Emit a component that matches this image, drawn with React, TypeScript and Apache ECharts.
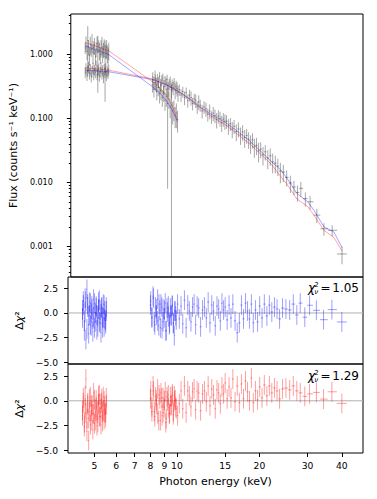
import React, { useEffect, useRef } from "react";
import * as echarts from "echarts";

// ---------------- data ----------------
const lowEnergy = [
  4.52, 4.55, 4.59, 4.62, 4.65, 4.69, 4.72, 4.76, 4.79, 4.83,
  4.86, 4.89, 4.93, 4.96, 5.0, 5.03, 5.07, 5.1, 5.14, 5.17,
  5.21, 5.24, 5.28, 5.31, 5.35, 5.38, 5.42, 5.45, 5.49, 5.52,
];
const highEnergyA = [8.0, 8.1, 8.2, 8.3, 8.4, 8.5, 8.6, 8.7, 8.8, 8.9, 9.0, 9.1, 9.2, 9.3, 9.4, 9.5, 9.6, 9.7, 9.8, 9.9];
const highEnergyB = [
  8.02, 8.1, 8.18, 8.26, 8.34, 8.42, 8.5, 8.58, 8.66, 8.74, 8.82, 8.9, 8.98, 9.06, 9.14, 9.22, 9.3, 9.38, 9.46, 9.54, 9.62, 9.7, 9.78, 9.86, 9.94,
  10.05, 10.2, 10.35, 10.5, 10.65, 10.8, 10.95, 11.1, 11.25, 11.4, 11.55, 11.7, 11.85, 12.0, 12.2, 12.4, 12.6, 12.8, 13.0, 13.2, 13.4, 13.6, 13.8, 14.0, 14.2, 14.4, 14.6, 14.8,
  15.0, 15.25, 15.5, 15.75, 16.0, 16.3, 16.6, 16.9, 17.2, 17.5, 17.8, 18.1, 18.4, 18.7, 19.0, 19.35, 19.7,
  20.05, 20.45, 20.85, 21.3, 21.75, 22.2, 22.7, 23.2, 23.7, 24.3,
  25.0, 25.8, 26.6, 27.4, 28.2, 29.3, 30.5, 32.3, 34.3, 36.8, 40.0,
];

const fluxLowA = [
  1.25, 1.48, 1.1, 1.62, 1.3, 0.95, 1.41, 1.18, 1.55, 1.05,
  1.27, 1.38, 0.92, 1.2, 1.45, 1.08, 1.33, 1.15, 0.98, 1.26,
  1.4, 1.02, 1.18, 1.3, 0.9, 1.12, 1.25, 1.05, 0.97, 1.15,
];
const errLowA = [
  0.25, 0.4, 0.3, 1.1, 0.35, 0.3, 0.45, 0.28, 0.5, 0.35,
  0.3, 0.4, 0.25, 0.32, 0.42, 0.83, 0.3, 0.35, 0.28, 0.38,
  0.45, 0.3, 0.32, 0.4, 0.72, 0.28, 0.4, 0.33, 0.3, 0.35,
];
const fluxLowB = [
  0.52, 0.6, 0.47, 0.55, 0.63, 0.5, 0.58, 0.45, 0.54, 0.61,
  0.49, 0.57, 0.52, 0.66, 0.48, 0.55, 0.59, 0.46, 0.53, 0.62,
  0.5, 0.56, 0.44, 0.58, 0.52, 0.6, 0.47, 0.55, 0.51, 0.57,
];
const errLowB = [
  0.1, 0.12, 0.09, 0.11, 0.13, 0.1, 0.12, 0.09, 0.11, 0.12,
  0.1, 0.11, 0.1, 0.13, 0.09, 0.11, 0.12, 0.09, 0.1, 0.12,
  0.1, 0.11, 0.09, 0.12, 0.1, 0.12, 0.09, 0.11, 0.1, 0.11,
];
const fluxHighA = [0.33, 0.28, 0.36, 0.26, 0.3, 0.24, 0.27, 0.21, 0.25, 0.19, 0.22, 0.17, 0.2, 0.15, 0.16, 0.13, 0.14, 0.11, 0.12, 0.095];
const errHighA = [0.08, 0.07, 0.09, 0.07, 0.08, 0.07, 0.08, 0.06, 0.07, 0.06, 0.07, 0.162, 0.06, 0.05, 0.17, 0.05, 0.05, 0.04, 0.05, 0.035];
const fluxHighB = [
  0.44, 0.36, 0.47, 0.34, 0.41, 0.37, 0.45, 0.33, 0.39, 0.42, 0.31, 0.38, 0.35, 0.4, 0.29, 0.34, 0.37, 0.28, 0.33, 0.3, 0.35, 0.27, 0.31, 0.29, 0.25,
  0.28, 0.23, 0.26, 0.21, 0.25, 0.19, 0.23, 0.21, 0.17, 0.2, 0.19, 0.15, 0.18, 0.16, 0.13, 0.15, 0.14, 0.115, 0.13, 0.105, 0.12, 0.11, 0.095, 0.108, 0.1, 0.085, 0.097, 0.09,
  0.09, 0.076, 0.082, 0.068, 0.075, 0.062, 0.068, 0.055, 0.061, 0.05, 0.054, 0.047, 0.041, 0.046, 0.036, 0.038, 0.031,
  0.033, 0.027, 0.03, 0.024, 0.026, 0.021, 0.02, 0.018, 0.015, 0.0145,
  0.012, 0.0098, 0.0085, 0.007, 0.0081, 0.0056, 0.005, 0.0031, 0.0019, 0.0018, 0.00077,
];
const relErrHighB = [
  0.18, 0.22, 0.17, 0.25, 0.2, 0.19, 0.16, 0.24, 0.2, 0.18, 0.26, 0.2, 0.22, 0.19, 0.27, 0.21, 0.2, 0.28, 0.22, 0.24, 0.21, 0.27, 0.23, 0.25, 0.28,
  0.2, 0.22, 0.19, 0.24, 0.2, 0.23, 0.21, 0.25, 0.22, 0.2, 0.24, 0.22, 0.26, 0.21, 0.24, 0.22, 0.25, 0.23, 0.26, 0.22, 0.25, 0.24, 0.27, 0.23, 0.26, 0.28, 0.24, 0.27,
  0.24, 0.27, 0.23, 0.28, 0.25, 0.29, 0.26, 0.3, 0.27, 0.31, 0.26, 0.29, 0.32, 0.27, 0.33, 0.3, 0.34,
  0.28, 0.32, 0.27, 0.33, 0.3, 0.34, 0.31, 0.3, 0.35, 0.3,
  0.28, 0.3, 0.25, 0.28, 0.26, 0.25, 0.24, 0.25, 0.22, 0.2, 0.31,
];

// models (blue / red) for the two spectra
const modelEnergyA = [4.52, 5.0, 5.52, 8.0, 8.5, 9.0, 9.5, 9.9];
const modelBlueA = [1.33, 1.15, 0.98, 0.31, 0.25, 0.19, 0.13, 0.088];
const modelRedA = [1.52, 1.3, 1.12, 0.37, 0.3, 0.23, 0.15, 0.094];
const modelEnergyB = [4.52, 5.0, 5.52, 8.0, 9.0, 10.0, 11.0, 12.0, 13.6, 15.0, 16.5, 18.0, 20.0, 22.0, 23.8, 25.5, 27.2, 29.9, 31.5, 34.3, 37.3, 40.0];
const modelBlueB = [0.56, 0.545, 0.53, 0.4, 0.33, 0.26, 0.2, 0.15, 0.106, 0.084, 0.062, 0.047, 0.031, 0.021, 0.0156, 0.0105, 0.0068, 0.005, 0.0037, 0.00204, 0.0017, 0.00097];
const modelRedB = [0.61, 0.585, 0.56, 0.41, 0.335, 0.26, 0.195, 0.145, 0.099, 0.077, 0.056, 0.042, 0.028, 0.019, 0.0123, 0.0085, 0.0056, 0.0042, 0.0031, 0.0018, 0.0014, 0.00086];

// residuals (blue model)
const residBlueLowA = [0.3, 1.2, -0.8, 1.5, -2.7, -1.6, 0.9, -0.3, 1.1, -1.2, 0.0, 0.7, -1.9, -0.4, 1.0, -0.9, 0.5, -0.2, -1.4, 0.4, 1.3, -1.0, -0.1, 0.6, -1.5, -0.5, 0.8, -0.6, -1.1, 0.2];
const residBlueLowB = [-0.5, 0.8, -1.8, 0.1, 1.2, 2.4, 0.6, -2.1, -0.2, 1.0, -1.3, 0.4, -0.6, 1.4, -1.5, 0.0, 0.7, -1.7, -0.3, 1.1, -0.9, 0.3, -2.0, 0.5, -0.4, 0.9, -1.4, 0.2, -0.8, 0.6];
const residBlueHighA = [0.8, -0.5, 1.5, -1.2, 0.4, -0.8, 0.9, -1.5, 0.6, -0.9, 0.3, -1.8, 0.5, -0.4, -1.0, -0.2, 0.7, -1.1, 0.2, -0.3];
const residBlueHighB = [
  1.2, -0.4, 1.7, -0.9, 0.6, -0.2, 1.4, -1.3, 0.3, 0.9, -1.6, 0.4, -0.5, 1.0, -1.8, 0.1, 0.7, -1.2, 0.5, -0.3, 0.8, -1.0, -2.3, 0.2, -0.7,
  0.9, -0.6, 0.7, -1.1, 1.3, -1.5, 0.8, 0.2, -0.9, 0.6, 0.9, -1.2, 0.7, 0.5, -1.4, 0.3, 0.6, -0.5, 1.1, -1.0, 0.8, 0.2, -1.3, 0.7, 0.4, -0.8, 1.0, 0.3,
  0.6, -0.7, 0.8, -0.5, 0.9, -0.8, -2.0, -1.0, 0.8, -0.6, 1.0, 0.2, -0.6, 0.9, -1.0, 0.3, -0.9,
  0.7, -0.5, 0.9, -0.3, 0.8, 0.1, 0.6, 0.4, -0.6, 0.5,
  0.4, 0.3, 0.9, -0.2, 1.0, -0.43, 0.78, 0.27, -0.68, 0.34, -0.91,
];
// residuals (red model)
const residRedLowA = [-1.5, -0.2, -2.6, 0.5, -1.2, -3.1, -0.4, -1.8, 0.2, -2.4, -1.0, -0.5, -2.9, -1.3, 0.1, -2.0, -0.6, -1.1, -2.2, -0.3, 0.6, -1.6, -0.8, -0.2, -2.1, -1.0, 0.0, -1.2, -1.7, -0.4];
const residRedLowB = [-1.0, 0.3, -2.2, -0.7, 2.2, -1.8, -0.2, -4.0, -1.1, 0.4, -2.0, -0.4, -1.3, 0.8, -2.3, -0.9, 0.1, -2.5, -1.0, 0.5, -1.6, -0.3, -2.4, 0.2, -1.1, 0.4, -1.9, -0.5, -1.2, 0.3];
const residRedHighA = [0.2, -1.1, 1.0, -1.6, 0.1, -1.3, 0.6, -2.0, 0.3, -1.2, 0.0, -2.2, 0.4, -0.7, -1.3, -0.5, 0.5, -1.4, 0.0, -0.6];
const residRedHighB = [
  1.0, -0.6, 1.5, -1.1, 0.4, -0.3, 1.2, -2.0, 0.2, 0.8, -1.5, 0.3, -0.7, 0.9, -1.8, 0.0, 0.6, -1.3, 0.4, -0.4, 0.7, -1.1, 0.5, 0.1, -0.8,
  -1.5, -0.3, 1.0, -0.8, 1.5, -1.2, 1.0, 0.5, -0.6, 0.9, 1.2, -0.9, 1.0, 0.8, -1.0, 0.7, 1.0, -0.1, 1.5, -0.5, 1.2, 0.6, -0.8, 1.1, 0.8, -0.3, 1.4, 0.7,
  1.8, 0.2, 1.4, 0.3, 2.2, -0.1, 1.5, -0.2, 1.7, 0.2, 2.0, 0.9, 0.0, 2.3, -0.2, 1.0, 0.1,
  1.4, 0.3, 1.6, 0.5, 1.5, 0.8, 1.3, 1.0, 0.2, 1.2,
  1.29, 1.1, 1.5, 1.0, 0.8, 0.45, 0.7, 0.85, 0.17, 0.91, -0.26,
];

const chiBlue = 1.05;
const chiRed = 1.29;

const energyTicks = [5, 6, 7, 8, 9, 10, 15, 20, 30, 40];
const fluxTicks = [0.001, 0.01, 0.1, 1];
const residTicks = [-5, -2.5, 0, 2.5];

// ---------------- layout / helpers ----------------
const FONT = '"DejaVu Sans", "Liberation Sans", sans-serif';
const L10 = Math.log10;
const XMIN = L10(4.0);
const XMAX = L10(47.8);
const FLUX_MIN = -3.472;
const FLUX_MAX = 0.623;
const RES1 = [-5.17, 3.645];
const RES2 = [-5.27, 3.716];

const minorFluxTicks: number[] = [];
for (let k = -4; k <= 0; k++) {
  for (let m = 2; m <= 9; m++) {
    const v = L10(m * Math.pow(10, k));
    if (v > FLUX_MIN && v < FLUX_MAX) minorFluxTicks.push(v);
  }
}

function binEdges(E: number[]): [number, number][] {
  return E.map((e, i) => {
    const prev = i > 0 ? E[i - 1] : (e * e) / E[i + 1];
    const next = i < E.length - 1 ? E[i + 1] : (e * e) / E[i - 1];
    return [Math.sqrt(prev * e), Math.sqrt(e * next)];
  });
}

function fluxBars(E: number[], F: number[], err: number[]) {
  const ed = binEdges(E);
  return E.map((e, i) => {
    const lo = F[i] - err[i];
    return [
      L10(e), L10(F[i]), L10(ed[i][0]), L10(ed[i][1]),
      lo > 0 ? Math.max(L10(lo), FLUX_MIN) : FLUX_MIN,
      L10(F[i] + err[i]),
    ];
  });
}

function residBars(E: number[], R: number[]) {
  const ed = binEdges(E);
  return E.map((e, i) => [L10(e), R[i], L10(ed[i][0]), L10(ed[i][1]), R[i] - 1, R[i] + 1]);
}

function makeRender(color: string) {
  return (_params: any, api: any) => {
    const x = api.value(0);
    const y = api.value(1);
    const a = api.coord([api.value(2), y]);
    const b = api.coord([api.value(3), y]);
    const c = api.coord([x, api.value(4)]);
    const d = api.coord([x, api.value(5)]);
    const style = { stroke: color, lineWidth: 1, fill: null };
    return {
      type: "group",
      children: [
        { type: "line", shape: { x1: a[0], y1: a[1], x2: b[0], y2: b[1] }, style },
        { type: "line", shape: { x1: c[0], y1: c[1], x2: d[0], y2: d[1] }, style },
      ],
    };
  };
}

function modelLine(E: number[], F: number[], color: string) {
  return {
    type: "line",
    xAxisIndex: 0,
    yAxisIndex: 0,
    data: E.map((e, i) => [L10(e), L10(F[i])]),
    symbol: "none",
    showSymbol: false,
    silent: true,
    z: 4,
    lineStyle: { color, width: 0.8 },
  };
}

function resLabel(v: number) {
  if (Math.abs(v) < 1e-9) return "0.0";
  return v < 0 ? "\u2212" + (-v).toFixed(1) : v.toFixed(1);
}

function chiGraphic(yMid: number, value: number) {
  const base = { fill: "#000", verticalAlign: "middle" };
  return [
    { type: "text", x: 308, y: yMid, silent: true, style: { ...base, text: "χ", font: `italic 12px ${FONT}`, align: "left" } },
    { type: "text", x: 314.2, y: yMid - 3.6, silent: true, style: { ...base, text: "2", font: `7px ${FONT}`, align: "left" } },
    { type: "text", x: 314.2, y: yMid + 3.5, silent: true, style: { ...base, text: "ν", font: `italic 7px ${FONT}`, align: "left" } },
    { type: "text", x: 320.5, y: yMid, silent: true, style: { ...base, text: "=", font: `12px ${FONT}`, align: "left" } },
    { type: "text", x: 359, y: yMid, silent: true, style: { ...base, text: value.toFixed(2), font: `12px ${FONT}`, align: "right" } },
  ];
}

export default function App() {
  const ref = useRef<HTMLDivElement>(null);

  useEffect(() => {
    if (!ref.current) return;
    const chart = echarts.init(ref.current, null, { renderer: "svg" });

    const fluxData = [
      ...fluxBars(lowEnergy, fluxLowA, errLowA),
      ...fluxBars(lowEnergy, fluxLowB, errLowB),
      ...fluxBars(highEnergyA, fluxHighA, errHighA),
      ...fluxBars(highEnergyB, fluxHighB, fluxHighB.map((f, i) => f * relErrHighB[i])),
    ];
    const blueRes = [
      ...residBars(lowEnergy, residBlueLowA),
      ...residBars(lowEnergy, residBlueLowB),
      ...residBars(highEnergyA, residBlueHighA),
      ...residBars(highEnergyB, residBlueHighB),
    ];
    const redRes = [
      ...residBars(lowEnergy, residRedLowA),
      ...residBars(lowEnergy, residRedLowB),
      ...residBars(highEnergyA, residRedHighA),
      ...residBars(highEnergyB, residRedHighB),
    ];

    const gridBase = { left: 68, width: 295, show: true, borderColor: "#000", borderWidth: 1, backgroundColor: "transparent" };
    const tickLabelStyle = { color: "#000", fontFamily: FONT, fontSize: 9.2 };

    const xAxes = [0, 1, 2].map((i) => ({
      type: "value",
      gridIndex: i,
      position: "bottom",
      min: XMIN,
      max: XMAX,
      axisLine: { show: false, onZero: false },
      splitLine: { show: false },
      axisTick: i === 2
        ? { show: true, length: 4, customValues: energyTicks.map(L10), lineStyle: { color: "#000", width: 1 } }
        : { show: false },
      axisLabel: i === 2
        ? { show: true, margin: 8, customValues: energyTicks.map(L10), formatter: (v: number) => String(Math.round(Math.pow(10, v))), ...tickLabelStyle }
        : { show: false },
      name: i === 2 ? "Photon energy (keV)" : "",
      nameLocation: "middle",
      nameGap: 23,
      nameTextStyle: { color: "#000", fontFamily: FONT, fontSize: 11 },
    }));

    const resAxis = (gi: number, range: number[]) => ({
      type: "value",
      gridIndex: gi,
      position: "left",
      min: range[0],
      max: range[1],
      axisLine: { show: false, onZero: false },
      splitLine: { show: false },
      axisTick: { show: true, length: 4, customValues: residTicks, lineStyle: { color: "#000", width: 1 } },
      axisLabel: { show: true, margin: 10, customValues: residTicks, formatter: resLabel, ...tickLabelStyle },
      name: "{d|Δ}{x|χ}{d|²}",
      nameLocation: "middle",
      nameRotate: 90,
      nameGap: 36,
      nameTextStyle: {
        color: "#000",
        rich: {
          d: { fontFamily: FONT, fontSize: 11, color: "#000" },
          x: { fontFamily: FONT, fontSize: 11, fontStyle: "italic", color: "#000" },
        },
      },
    });

    chart.setOption({
      animation: false,
      backgroundColor: "#fff",
      grid: [
        { ...gridBase, top: 14, height: 263 },
        { ...gridBase, top: 277, height: 87 },
        { ...gridBase, top: 364, height: 89 },
      ],
      xAxis: xAxes,
      yAxis: [
        {
          type: "value",
          gridIndex: 0,
          position: "left",
          min: FLUX_MIN,
          max: FLUX_MAX,
          axisLine: { show: false, onZero: false },
          splitLine: { show: false },
          axisTick: { show: true, length: 4, customValues: fluxTicks.map(L10), lineStyle: { color: "#000", width: 1 } },
          axisLabel: {
            show: true,
            margin: 18,
            customValues: fluxTicks.map(L10),
            formatter: (v: number) => Math.pow(10, v).toFixed(3),
            color: "#000",
            fontFamily: FONT,
            fontSize: 8,
          },
          name: "Flux (counts s\u207B\u00B9 keV\u207B\u00B9)",
          nameLocation: "middle",
          nameRotate: 90,
          nameGap: 41,
          nameTextStyle: { color: "#000", fontFamily: FONT, fontSize: 11 },
        },
        {
          type: "value",
          gridIndex: 0,
          position: "left",
          offset: 0,
          min: FLUX_MIN,
          max: FLUX_MAX,
          axisLine: { show: false, onZero: false },
          splitLine: { show: false },
          axisTick: { show: true, length: 2, customValues: minorFluxTicks, lineStyle: { color: "#000", width: 1 } },
          axisLabel: { show: false },
        },
        resAxis(1, RES1),
        resAxis(2, RES2),
      ],
      series: [
        {
          type: "custom",
          xAxisIndex: 0,
          yAxisIndex: 0,
          renderItem: makeRender("rgba(0,0,0,0.35)"),
          data: fluxData,
          clip: true,
          silent: true,
          encode: { x: 0, y: 1 },
          z: 2,
        },
        modelLine(modelEnergyA, modelRedA, "rgba(255,0,0,0.45)"),
        modelLine(modelEnergyB, modelRedB, "rgba(255,0,0,0.45)"),
        modelLine(modelEnergyA, modelBlueA, "rgba(0,0,255,0.45)"),
        modelLine(modelEnergyB, modelBlueB, "rgba(0,0,255,0.45)"),
        {
          type: "line",
          xAxisIndex: 1,
          yAxisIndex: 2,
          data: [[XMIN, 0], [XMAX, 0]],
          symbol: "none",
          silent: true,
          lineStyle: { color: "#b0b0b0", width: 1 },
          z: 1,
        },
        {
          type: "line",
          xAxisIndex: 2,
          yAxisIndex: 3,
          data: [[XMIN, 0], [XMAX, 0]],
          symbol: "none",
          silent: true,
          lineStyle: { color: "#b0b0b0", width: 1 },
          z: 1,
        },
        {
          type: "custom",
          xAxisIndex: 1,
          yAxisIndex: 2,
          renderItem: makeRender("rgba(0,0,255,0.38)"),
          data: blueRes,
          clip: true,
          silent: true,
          encode: { x: 0, y: 1 },
          z: 2,
        },
        {
          type: "custom",
          xAxisIndex: 2,
          yAxisIndex: 3,
          renderItem: makeRender("rgba(255,0,0,0.38)"),
          data: redRes,
          clip: true,
          silent: true,
          encode: { x: 0, y: 1 },
          z: 2,
        },
      ],
      graphic: [...chiGraphic(288.3, chiBlue), ...chiGraphic(376.3, chiRed)],
    });

    return () => chart.dispose();
  }, []);

  return (
    <div
      ref={ref}
      style={{ position: "fixed", left: 0, top: 0, width: 377, height: 499, background: "#fff" }}
    />
  );
}
